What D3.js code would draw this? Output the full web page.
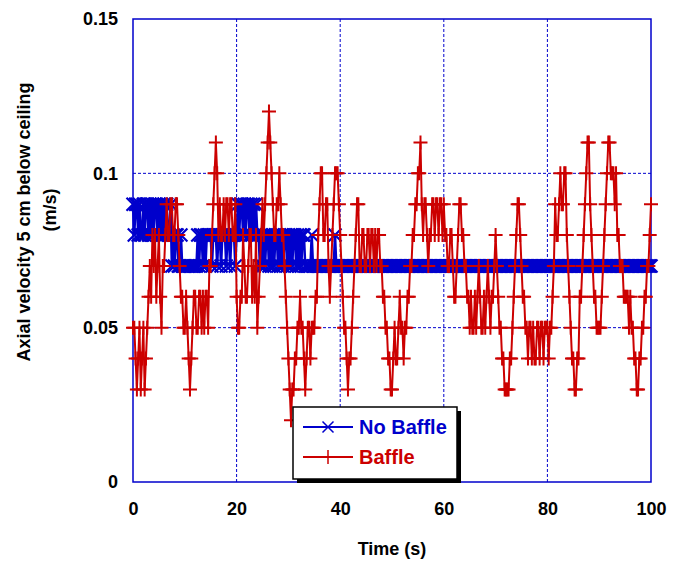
<!DOCTYPE html>
<html>
<head>
<meta charset="utf-8">
<script src="https://cdn.jsdelivr.net/npm/d3@7"></script>
<style>
body { margin: 0; background: #fff; }
svg text { font-family: Arial, "Liberation Sans", sans-serif; font-weight: bold; }
</style>
</head>
<body>
<svg id="chart" width="673" height="567"></svg>
<script>
// Axial velocity 5 cm below ceiling, with and without baffle
const xTicks = [0, 20, 40, 60, 80, 100];
const yTicks = [0, 0.05, 0.1, 0.15];
const yTickLabels = ["0", "0.05", "0.1", "0.15"];
const seriesNames = ["No Baffle", "Baffle"];
const sampleStep = 0.25; // seconds between samples

// velocities in cm/s (0.07 m/s = 7), one sample every 0.25 s from 0 to 100 s
const noBaffle = [
  9,8,9,9,8,9,8,8,9,8,9,9,8,9,8,9,8,9,9,8,
  9,8,9,8,9,8,9,8,8,9,7,8,7,8,8,7,7,8,7,7,
  7,7,7,7,7,7,7,7,7,7,8,7,8,8,7,8,7,8,8,8,
  8,7,8,8,8,7,8,8,7,8,8,8,7,8,8,7,8,8,8,7,
  8,9,8,9,9,8,9,8,9,9,8,9,8,9,8,9,8,8,7,8,
  7,8,7,8,8,7,8,7,8,7,8,8,7,8,7,8,7,8,8,7,
  8,7,8,7,8,8,7,8,7,8,7,8,8,7,7,7,7,7,8,7,
  7,7,7,7,7,7,7,7,7,7,7,7,7,7,7,7,8,7,7,7,
  7,7,7,7,7,7,7,7,7,7,7,7,7,7,7,7,7,7,7,7,
  7,7,7,7,7,7,7,7,7,7,7,7,7,7,7,7,7,7,7,7,
  7,7,7,7,7,7,7,7,7,7,7,7,7,7,7,7,7,7,7,7,
  7,7,7,7,7,7,7,7,7,7,7,7,7,7,7,7,7,7,7,7,
  7,7,7,7,7,7,7,7,7,7,7,7,7,7,7,7,7,7,7,7,
  7,7,7,7,7,7,7,7,7,7,7,7,7,7,7,7,7,7,7,7,
  7,7,7,7,7,7,7,7,7,7,7,7,7,7,7,7,7,7,7,7,
  7,7,7,7,7,7,7,7,7,7,7,7,7,7,7,7,7,7,7,7,
  7,7,7,7,7,7,7,7,7,7,7,7,7,7,7,7,7,7,7,7,
  7,7,7,7,7,7,7,7,7,7,7,7,7,7,7,7,7,7,7,7,
  7,7,7,7,7,7,7,7,7,7,7,7,7,7,7,7,7,7,7,7,
  7,7,7,7,7,7,7,7,7,7,7,7,7,7,7,7,7,7,7,7,
  7
];
const baffle = [
  5,5,4,3,4,5,3,4,5,3,4,5,6,7,6,8,7,8,6,7,
  8,6,5,7,7,8,9,8,8,9,9,8,8,9,9,8,7,6,6,5,
  5,6,5,4,3,4,5,6,6,5,5,6,6,5,6,5,6,6,5,7,
  7,8,9,10,11,10,8,9,8,8,9,8,9,9,8,9,9,8,8,9,
  6,5,5,6,6,8,7,6,6,7,8,8,6,7,6,8,5,6,7,8,
  9,8,9,10,11,12,11,10,9,8,8,9,9,10,9,8,8,7,6,5,
  4,3,2,3,3,4,4,5,5,6,5,5,4,3,4,5,5,4,5,5,
  5,6,6,8,9,10,10,8,8,9,9,7,6,7,8,9,10,10,10,9,
  8,7,6,5,5,4,3,4,4,5,6,7,8,9,9,7,7,8,8,7,
  7,8,8,7,8,8,7,8,7,8,8,7,7,6,6,5,5,4,4,3,
  3,4,5,4,4,5,6,5,5,4,5,5,6,6,7,7,8,8,9,9,
  10,10,11,9,8,9,9,8,7,8,8,9,9,8,9,9,8,9,9,8,
  9,8,8,7,7,8,8,7,6,6,7,8,9,9,8,8,7,7,6,6,
  5,6,5,5,6,5,6,7,6,5,5,6,5,6,7,6,5,6,6,7,
  8,7,6,5,5,4,4,3,3,3,3,4,4,5,6,7,8,9,9,8,
  7,6,6,5,5,4,5,5,4,5,4,4,5,5,4,5,5,4,5,5,
  5,4,5,5,6,7,9,8,8,9,10,9,9,10,10,8,7,6,5,4,
  4,3,3,4,4,6,6,7,8,9,10,11,11,9,8,7,6,6,5,5,
  5,5,6,7,8,9,10,11,11,10,10,10,9,10,8,8,7,7,7,6,
  6,6,6,5,6,5,5,4,4,3,3,4,4,5,5,6,6,7,7,8,
  9
];
const time = noBaffle.map((v, i) => i * sampleStep);

const blue = "#0000cc";
const red = "#cc0000";

const margin = {top: 19, right: 22, bottom: 85, left: 133};
const W = 673, H = 567;
const w = W - margin.left - margin.right;
const h = H - margin.top - margin.bottom;

const svg = d3.select("#chart");
const g = svg.append("g").attr("transform", `translate(${margin.left},${margin.top})`);

const x = d3.scaleLinear().domain([0, 100]).range([0, w]);
const y = d3.scaleLinear().domain([0, 0.15]).range([h, 0]);
const yv = cm => y(cm / 100); // cm/s -> m/s -> px

// dashed grid
g.selectAll(".vgrid").data(xTicks.slice(1, -1)).join("line")
  .attr("x1", d => x(d)).attr("x2", d => x(d))
  .attr("y1", 0).attr("y2", h)
  .attr("stroke", blue).attr("stroke-width", 1).attr("stroke-dasharray", "3,2");
g.selectAll(".hgrid").data(yTicks.slice(1, -1)).join("line")
  .attr("x1", 0).attr("x2", w)
  .attr("y1", d => y(d)).attr("y2", d => y(d))
  .attr("stroke", blue).attr("stroke-width", 1).attr("stroke-dasharray", "3,2");

g.append("rect").attr("width", w).attr("height", h)
  .attr("fill", "none").attr("stroke", blue).attr("stroke-width", 1.5);

// axes (labels only)
const xAxis = g.append("g").attr("transform", `translate(0,${h})`)
  .call(d3.axisBottom(x).tickValues(xTicks).tickSize(0).tickPadding(20).tickFormat(d3.format("d")));
const yAxis = g.append("g")
  .call(d3.axisLeft(y).tickValues(yTicks).tickSize(0).tickPadding(15).tickFormat((d, i) => yTickLabels[i]));
[xAxis, yAxis].forEach(a => {
  a.select(".domain").remove();
  a.selectAll("text").attr("font-size", 18).attr("fill", "#000")
    .style("font-family", "Arial, 'Liberation Sans', sans-serif").style("font-weight", "bold");
});

// series
const line = d3.line().x((d, i) => x(time[i])).y(d => yv(d));

function crossPath(s) { return `M${-s},${-s}L${s},${s}M${-s},${s}L${s},${-s}`; }
function plusPath(s) { return `M${-s},0L${s},0M0,${-s}L0,${s}`; }

g.append("path").datum(noBaffle).attr("d", line)
  .attr("fill", "none").attr("stroke", blue).attr("stroke-width", 2.5);
g.append("g").selectAll("path").data(noBaffle).join("path")
  .attr("transform", (d, i) => `translate(${x(time[i])},${yv(d)})`)
  .attr("d", crossPath(6.5)).attr("stroke", blue).attr("stroke-width", 2.2).attr("fill", "none");

g.append("path").datum(baffle).attr("d", line)
  .attr("fill", "none").attr("stroke", red).attr("stroke-width", 2);
g.append("g").selectAll("path").data(baffle).join("path")
  .attr("transform", (d, i) => `translate(${x(time[i])},${yv(d)})`)
  .attr("d", plusPath(7)).attr("stroke", red).attr("stroke-width", 2).attr("fill", "none");

// axis titles
svg.append("text").attr("x", margin.left + w / 2).attr("y", 555)
  .attr("text-anchor", "middle").attr("font-size", 18).text("Time (s)");
svg.append("text").attr("transform", "translate(30,222) rotate(-90)")
  .attr("text-anchor", "middle").attr("font-size", 18).text("Axial velocity 5 cm below ceiling");
svg.append("text").attr("transform", "translate(56,210) rotate(-90)")
  .attr("text-anchor", "middle").attr("font-size", 18).text("(m/s)");

// legend
const lg = svg.append("g").attr("transform", "translate(293,407)");
lg.append("rect").attr("x", 4).attr("y", 4).attr("width", 164).attr("height", 72).attr("fill", "#000");
lg.append("rect").attr("width", 164).attr("height", 72).attr("fill", "#fff")
  .attr("stroke", "#000").attr("stroke-width", 1.5);
const legendItems = [
  {name: seriesNames[0], color: blue, marker: crossPath(5.5), width: 2},
  {name: seriesNames[1], color: red, marker: plusPath(7), width: 2}
];
legendItems.forEach((it, i) => {
  const yy = 20 + i * 30;
  lg.append("line").attr("x1", 10).attr("x2", 60).attr("y1", yy).attr("y2", yy)
    .attr("stroke", it.color).attr("stroke-width", it.width);
  lg.append("path").attr("transform", `translate(35,${yy})`).attr("d", it.marker)
    .attr("stroke", it.color).attr("stroke-width", 1.5).attr("fill", "none");
  lg.append("text").attr("x", 66).attr("y", yy + 7).attr("font-size", 20)
    .attr("fill", it.color).text(it.name);
});
</script>
</body>
</html>
